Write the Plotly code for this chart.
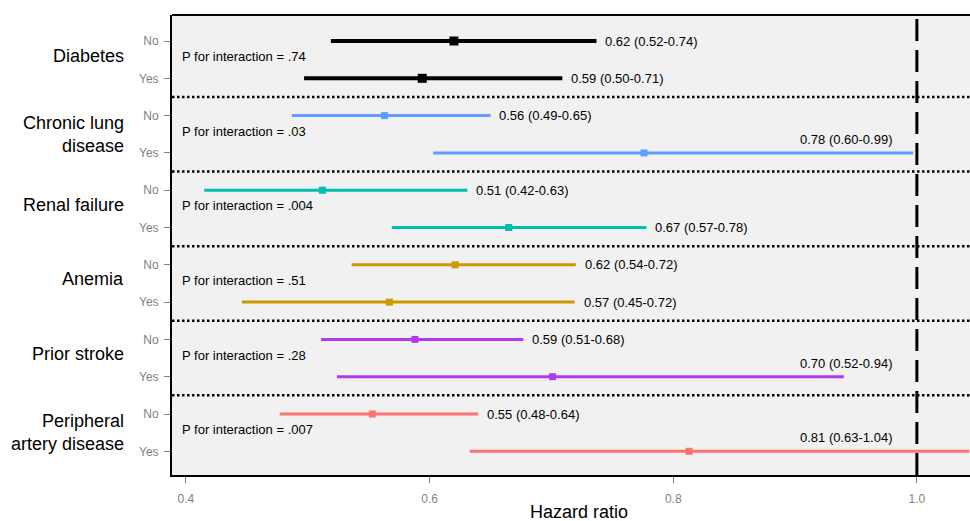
import plotly.graph_objects as go

groups = ["Diabetes", "Chronic lung<br>disease", "Renal failure", "Anemia",
          "Prior stroke", "Peripheral<br>artery disease"]
levels = ["No", "Yes"]
colors = ["#000000", "#619CFF", "#00BFB2", "#CC9900", "#B23AEE", "#F8766D"]

hr_no = [0.620, 0.563, 0.512, 0.621, 0.588, 0.553]
lo_no = [0.519, 0.487, 0.415, 0.536, 0.511, 0.477]
hi_no = [0.737, 0.650, 0.631, 0.720, 0.677, 0.640]
hr_yes = [0.594, 0.776, 0.665, 0.567, 0.701, 0.813]
lo_yes = [0.497, 0.603, 0.569, 0.446, 0.524, 0.633]
hi_yes = [0.709, 0.997, 0.778, 0.719, 0.940, 1.043]

label_no = ["0.62 (0.52-0.74)", "0.56 (0.49-0.65)", "0.51 (0.42-0.63)",
            "0.62 (0.54-0.72)", "0.59 (0.51-0.68)", "0.55 (0.48-0.64)"]
label_yes = ["0.59 (0.50-0.71)", "0.78 (0.60-0.99)", "0.67 (0.57-0.78)",
             "0.57 (0.45-0.72)", "0.70 (0.52-0.94)", "0.81 (0.63-1.04)"]
p_interaction = [".74", ".03", ".004", ".51", ".28", ".007"]

x_ticks = [0.4, 0.6, 0.8, 1.0]
x_ticktext = ["0.4", "0.6", "0.8", "1.0"]

FONT = "Liberation Sans, Arial, Helvetica, sans-serif"
GRAY = "#7F7F7F"

W, H = 970, 521
ML, MT, MB = 172, 15, 46
PLOT_H = H - MT - MB

fig = go.Figure()
annotations = []
shapes = []

n = len(groups)
tickvals, ticktext = [], []
for g in range(n):
    r_no, r_yes = 2 * g, 2 * g + 1
    tickvals += [r_no, r_yes]
    ticktext += levels
    lw = 4 if g == 0 else 3
    ms = 9 if g == 0 else 7
    hr = [hr_no[g], hr_yes[g]]
    lo = [lo_no[g], lo_yes[g]]
    hi = [hi_no[g], hi_yes[g]]
    fig.add_trace(go.Scatter(
        x=hr, y=[r_no, r_yes], mode="markers",
        marker=dict(symbol="square", size=ms, color=colors[g]),
        error_x=dict(type="data", symmetric=False,
                     array=[h - m for h, m in zip(hi, hr)],
                     arrayminus=[m - l for m, l in zip(hr, lo)],
                     thickness=lw, width=0, color=colors[g]),
        showlegend=False, hoverinfo="skip"))

    for r, h, lab in [(r_no, hi_no[g], label_no[g]), (r_yes, hi_yes[g], label_yes[g])]:
        if h > 0.9:
            annotations.append(dict(x=0.9426, y=r - 0.36, xref="x", yref="y",
                                    text=lab, showarrow=False, xanchor="center",
                                    yanchor="middle",
                                    font=dict(family=FONT, size=13, color="black")))
        else:
            annotations.append(dict(x=h, y=r, xref="x", yref="y", text=lab,
                                    showarrow=False, xanchor="left", yanchor="middle",
                                    xshift=7,
                                    font=dict(family=FONT, size=13, color="black")))

    annotations.append(dict(x=0.3976, y=r_no + 0.5, xref="x", yref="y",
                            text="P for interaction = " + p_interaction[g],
                            showarrow=False, xanchor="left", yanchor="middle",
                            xshift=-3, yshift=3,
                            font=dict(family=FONT, size=13, color="black")))
    annotations.append(dict(x=-46 / (W - ML), y=r_no + 0.5, xref="paper", yref="y",
                            text=groups[g], showarrow=False, xanchor="right",
                            yanchor="middle", align="right",
                            yshift=(0 if "<br>" in groups[g] else 4),
                            font=dict(family=FONT, size=18, color="black")))
    if g < n - 1:
        shapes.append(dict(type="line", xref="paper", yref="y", x0=0, x1=1,
                           y0=r_yes + 0.5, y1=r_yes + 0.5,
                           line=dict(color="black", width=2.5, dash="2.5px,2.5px"),
                           layer="above"))

# reference line at HR = 1
shapes.append(dict(type="line", xref="x", yref="paper", x0=1.0, x1=1.0, y0=0, y1=1,
                   line=dict(color="black", width=3, dash="22px,9px"), layer="above"))
# top border
shapes.append(dict(type="line", xref="paper", yref="paper", x0=0, x1=1, y0=1, y1=1,
                   line=dict(color="black", width=2), layer="above"))

annotations.append(dict(x=(579 - ML) / (W - ML), y=-37 / PLOT_H, xref="paper",
                        yref="paper", text="Hazard ratio", showarrow=False,
                        xanchor="center", yanchor="middle",
                        font=dict(family=FONT, size=18, color="black")))

fig.update_layout(
    width=W, height=H, autosize=False,
    margin=dict(l=ML, r=0, t=MT, b=MB, pad=0),
    paper_bgcolor="white", plot_bgcolor="#F1F1F1",
    font=dict(family=FONT),
    xaxis=dict(range=[0.3886, 1.0436], tickvals=x_ticks, ticktext=x_ticktext,
               showgrid=False, zeroline=False, showline=True, linecolor="black",
               linewidth=2, ticks="outside", ticklen=6, tickcolor=GRAY, tickwidth=1,
               ticklabelstandoff=6,
               tickfont=dict(family=FONT, size=12, color=GRAY)),
    yaxis=dict(range=[11.635, -0.697], tickvals=tickvals, ticktext=ticktext,
               showgrid=False, zeroline=False, showline=True, linecolor="black",
               linewidth=2, ticks="outside", ticklen=6, tickcolor=GRAY, tickwidth=1,
               ticklabelstandoff=3,
               tickfont=dict(family=FONT, size=12, color=GRAY)),
    annotations=annotations, shapes=shapes,
)

fig.write_html(
    "out.html",
    config={"displayModeBar": False, "staticPlot": True},
    post_script="document.body.style.margin='0';document.body.style.overflow='hidden';",
)
